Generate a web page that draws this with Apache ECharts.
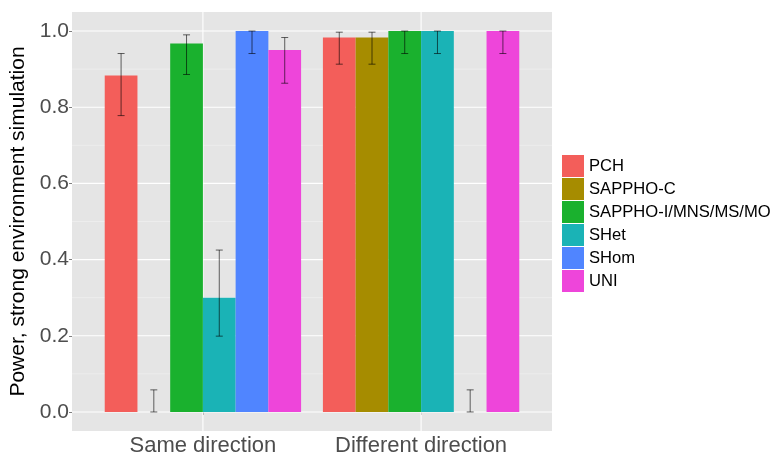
<!DOCTYPE html>
<html>
<head>
<meta charset="utf-8">
<script src="https://cdn.jsdelivr.net/npm/echarts@6/dist/echarts.min.js"></script>
<style>
html,body{margin:0;padding:0;background:#fff;}
#c{width:773px;height:453px;}
</style>
</head>
<body>
<div id="c"></div>
<script>
// ---- data ----
const categories = ["Same direction", "Different direction"];
const seriesNames = ["PCH", "SAPPHO-C", "SAPPHO-I/MNS/MS/MO", "SHet", "SHom", "UNI"];
const colors = ["#F35E5A", "#A68C00", "#1AB12E", "#1AB3B6", "#5085FF", "#EE45DA"];
// values per series: [Same, Different]
const PCH      = [0.883, 0.983];
const SAPPHO_C = [0.000, 0.983];
const SAPPHO_I = [0.967, 1.000];
const SHet     = [0.300, 1.000];
const SHom     = [1.000, 0.000];
const UNI      = [0.950, 1.000];
// lower / upper confidence bounds per series: [Same, Different]
const PCH_lo      = [0.778, 0.913], PCH_hi      = [0.941, 0.997];
const SAPPHO_C_lo = [0.000, 0.913], SAPPHO_C_hi = [0.058, 0.997];
const SAPPHO_I_lo = [0.886, 0.941], SAPPHO_I_hi = [0.990, 1.000];
const SHet_lo     = [0.199, 0.941], SHet_hi     = [0.425, 1.000];
const SHom_lo     = [0.941, 0.000], SHom_hi     = [1.000, 0.058];
const UNI_lo      = [0.863, 0.941], UNI_hi      = [0.983, 1.000];
const yTicks = [0, 0.2, 0.4, 0.6, 0.8, 1.0];
const yMinor = [0.1, 0.3, 0.5, 0.7, 0.9];

const values = [PCH, SAPPHO_C, SAPPHO_I, SHet, SHom, UNI];
const lows = [PCH_lo, SAPPHO_C_lo, SAPPHO_I_lo, SHet_lo, SHom_lo, UNI_lo];
const highs = [PCH_hi, SAPPHO_C_hi, SAPPHO_I_hi, SHet_hi, SHom_hi, UNI_hi];

const dodge = 0.9, nS = seriesNames.length, bw = dodge / nS;
const catPos = categories.map((c, i) => i + 1);
const X_MIN = 0.4, X_MAX = 2.6;

function barRenderer(si) {
  return function (params, api) {
    const x = api.value(0) + (si - (nS - 1) / 2) * bw;
    const v = api.value(1), lo = api.value(2), hi = api.value(3);
    const p0 = api.coord([x - bw / 2, v]);
    const p1 = api.coord([x + bw / 2, 0]);
    const children = [];
    if (v > 0) {
      children.push({
        type: 'rect',
        shape: { x: p0[0], y: p0[1], width: p1[0] - p0[0], height: p1[1] - p0[1] },
        style: { fill: colors[si] }
      });
    }
    const cw = 0.016;
    const t = api.coord([x, hi]), b = api.coord([x, lo]);
    const tl = api.coord([x - cw, hi]), tr = api.coord([x + cw, hi]);
    const bl = api.coord([x - cw, lo]), br = api.coord([x + cw, lo]);
    const es = { stroke: 'rgba(0,0,0,0.6)', lineWidth: 1 };
    children.push({ type: 'line', shape: { x1: t[0], y1: t[1], x2: b[0], y2: b[1] }, style: es });
    children.push({ type: 'line', shape: { x1: tl[0], y1: tl[1], x2: tr[0], y2: tr[1] }, style: es });
    children.push({ type: 'line', shape: { x1: bl[0], y1: bl[1], x2: br[0], y2: br[1] }, style: es });
    return { type: 'group', children: children };
  };
}

const barSeries = seriesNames.map((name, si) => ({
  name: name,
  type: 'custom',
  z: 5,
  itemStyle: { color: colors[si] },
  renderItem: barRenderer(si),
  encode: { x: 0, y: 1 },
  data: catPos.map((p, ci) => [p, values[si][ci], lows[si][ci], highs[si][ci]])
}));

const gridData = [];
yMinor.forEach(v => gridData.push(['h', v, 0]));
yTicks.forEach(v => gridData.push(['h', v, 1]));
catPos.forEach(p => gridData.push(['v', p, 1]));

const gridSeries = {
  name: '__grid',
  type: 'custom',
  z: 1,
  silent: true,
  renderItem: function (params, api) {
    const d = gridData[params.dataIndex];
    let a, b;
    if (d[0] === 'h') { a = api.coord([X_MIN, d[1]]); b = api.coord([X_MAX, d[1]]); }
    else { a = api.coord([d[1], -0.05]); b = api.coord([d[1], 1.05]); }
    return {
      type: 'line',
      shape: { x1: a[0], y1: a[1], x2: b[0], y2: b[1] },
      style: { stroke: d[2] ? '#FFFFFF' : '#F2F2F2', lineWidth: d[2] ? 1.1 : 0.6 }
    };
  },
  encode: { x: 2, y: 1 },
  data: gridData.map((d, i) => [i, d[1], d[0] === 'v' ? d[1] : 1])
};

const chart = echarts.init(document.getElementById('c'), null, { renderer: 'canvas' });
chart.setOption({
  animation: false,
  color: colors,
  textStyle: { fontFamily: 'Liberation Sans, Arial, sans-serif' },
  grid: {
    left: 72, right: 221, top: 12, bottom: 22,
    outerBoundsMode: 'none', containLabel: false,
    show: true, backgroundColor: '#E5E5E5', borderWidth: 0
  },
  legend: {
    data: seriesNames,
    orient: 'vertical',
    left: 562, top: 155, padding: 0,
    itemWidth: 22, itemHeight: 22, itemGap: 1,
    icon: 'rect',
    textStyle: { fontSize: 16.6, color: '#000', fontFamily: 'Liberation Sans, Arial, sans-serif' }
  },
  xAxis: {
    type: 'value', min: X_MIN, max: X_MAX,
    axisLine: { show: false },
    splitLine: { show: false },
    axisTick: { show: true, length: 3, customValues: catPos, lineStyle: { color: '#7F7F7F' } },
    axisLabel: {
      customValues: catPos, margin: 4, fontSize: 22, color: '#4D4D4D',
      formatter: v => categories[Math.round(v) - 1] || ''
    }
  },
  yAxis: {
    type: 'value', min: -0.05, max: 1.05,
    axisLine: { show: false },
    splitLine: { show: false },
    axisTick: { show: true, length: 3, customValues: yTicks, lineStyle: { color: '#7F7F7F' } },
    axisLabel: {
      customValues: yTicks, margin: 3, fontSize: 21, color: '#4D4D4D',
      formatter: v => v.toFixed(1)
    },
    name: 'Power, strong environment simulation',
    nameLocation: 'middle', nameGap: 36,
    nameTextStyle: { fontSize: 21, color: '#000' }
  },
  series: [gridSeries].concat(barSeries)
});
</script>
</body>
</html>
